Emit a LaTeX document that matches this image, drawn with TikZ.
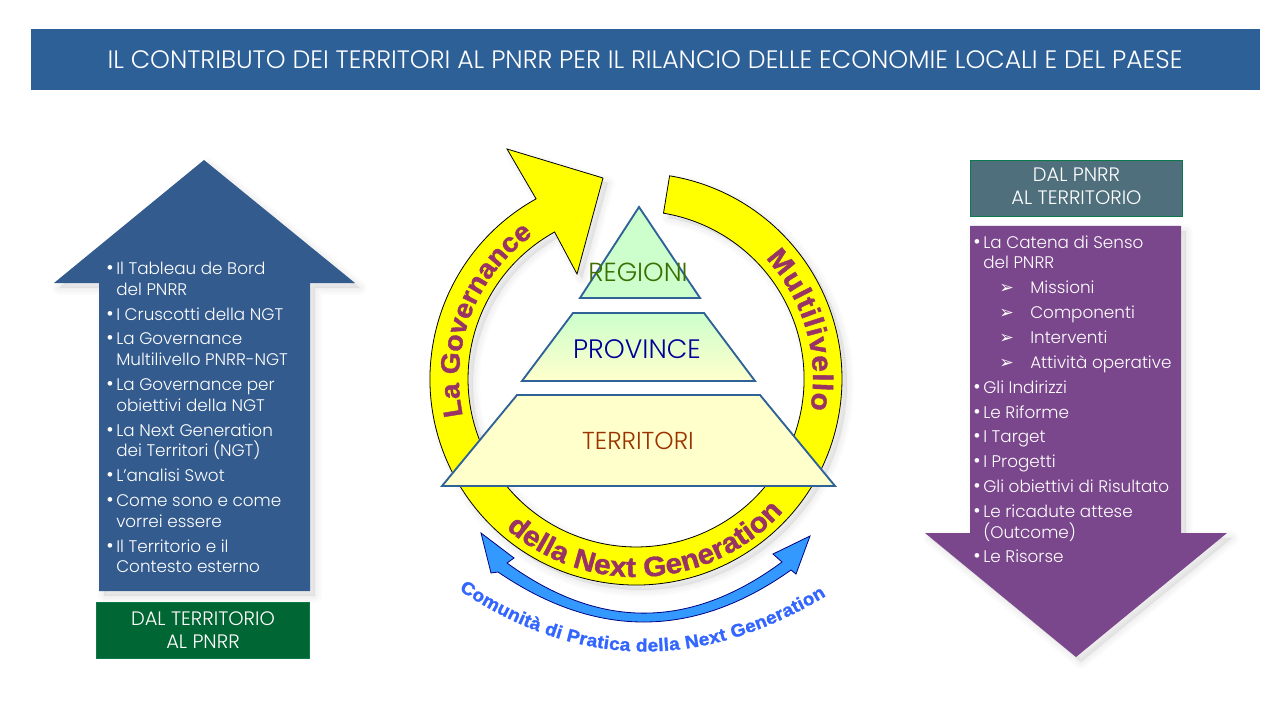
\documentclass[tikz,border=0pt]{standalone}
\usepackage{fontspec}
\usetikzlibrary{decorations.text}
\setmainfont{Poppins Light}
\newfontfamily\arbx{Liberation Sans Bold}[FakeBold=1.4,FakeStretch=1.06]
\newfontfamily\dv{DejaVu Sans}
\definecolor{headblue}{HTML}{2E6098}
\definecolor{upblue}{HTML}{335B8E}
\definecolor{dkgreen}{HTML}{006633}
\definecolor{slate}{HTML}{4F6F7C}
\definecolor{boxedge}{HTML}{0A7A4A}
\definecolor{purp}{HTML}{7A468C}
\definecolor{wine}{HTML}{993366}
\definecolor{pyredge}{HTML}{2F6296}
\definecolor{skyb}{HTML}{3399FF}
\definecolor{comm}{HTML}{3366FF}
\definecolor{mintg}{HTML}{CCFFCC}
\definecolor{paley}{HTML}{FFFFCC}
\definecolor{puryel}{HTML}{FFFF00}
\newcommand{\softsh}[2][5]{\foreach \w in {14,11,8,5,2}{\path[fill=black,draw=black,opacity=.012,line join=round,line width=\w*0.75pt,shift={(#1,#1)}] #2;}}
\newcommand{\wineText}{\arbx\fontsize{21}{21}\selectfont\color{wine}}
\newcommand{\wineSmall}{\arbx\fontsize{20}{21}\selectfont\color{wine}}
\newcommand{\commText}{\arbx\fontsize{13.5}{14}\selectfont\color{comm}}
\tikzset{
  lbl/.style={inner sep=0pt,anchor=base west,text=white,font=\fontsize{12.6}{13}\selectfont},
  pyr/.style={draw=pyredge,line width=1.4pt,line join=miter},
  ctr/.style={inner sep=0pt,align=center,text=white,font=\fontsize{14.6}{17.5}\selectfont},
}
\def\bandpath{(669.6,175.8) arc[start angle=80.6,end angle=-241,radius=154.5pt] -- (507,149) -- (603,178) -- (577,274) -- (554.6,232) arc[start angle=-241,end angle=80.6,radius=126pt] -- cycle}
\def\uppath{(204,160) -- (355,283) -- (310,283) -- (310,591) -- (99,591) -- (99,283) -- (54,283) -- cycle}
\def\downpath{(970,226) -- (1181,226) -- (1181,533) -- (1227,533) -- (1076,657) -- (925,533) -- (970,533) -- cycle}
\begin{document}
\begin{tikzpicture}[x=0.75pt,y=-0.75pt]
\useasboundingbox (0,0) rectangle (1280,720);
\fill[white] (0,0) rectangle (1280,720);
\coordinate (c) at (636,379);
% header
\fill[headblue] (31,29) rectangle (1260,90);
\node[inner sep=0pt,text=white,font=\fontsize{18.9}{22}\selectfont] (title) at (645,60) {IL CONTRIBUTO DEI TERRITORI AL PNRR PER IL RILANCIO DELLE ECONOMIE LOCALI E DEL PAESE};
% left arrow
\softsh{\uppath}
\fill[upblue] \uppath;
\foreach \yy/\tx [count=\i] in {274/Il Tableau de Bord,295/del PNRR,320/I Cruscotti della NGT,344/La Governance,365/Multilivello PNRR-NGT,390/La Governance per,411/obiettivi della NGT,436/La Next Generation,456/dei Territori (NGT),481/L’analisi Swot,506/Come sono e come,527/vorrei essere,552/Il Territorio e il,572/Contesto esterno}
  {\node[lbl] (ll\i) at (116,\yy) {\tx};}
\foreach \yy [count=\i] in {274,320,344,390,436,481,506,552}
  {\node[lbl,font=\fontsize{15}{15}\selectfont] (lb\i) at (106,\yy) {•};}
\node[draw=boxedge,line width=.6pt,fill=dkgreen,ctr,minimum width=160pt,minimum height=42pt] (lbox) at (203,630) {DAL TERRITORIO\\AL PNRR};
% right arrow
\node[draw=boxedge,line width=.6pt,fill=slate,minimum width=159.5pt,minimum height=42pt,inner sep=0pt] (rbox) at (1076.5,188) {};
\node[ctr] (rtext) at (1076.5,186.5) {DAL PNRR\\AL TERRITORIO};
\softsh{\downpath}
\fill[purp] \downpath;
\foreach \yy/\tx [count=\i] in {248/La Catena di Senso,268/del PNRR,393/Gli Indirizzi,418/Le Riforme,442/I Target,467/I Progetti,492/Gli obiettivi di Risultato,517/Le ricadute attese,538/(Outcome),562/Le Risorse}
  {\node[lbl] (rl\i) at (983,\yy) {\tx};}
\foreach \yy [count=\i] in {248,393,418,442,467,492,517,562}
  {\node[lbl,font=\fontsize{15}{15}\selectfont] (rb\i) at (973,\yy) {•};}
\foreach \yy/\tx [count=\i] in {293/Missioni,318/Componenti,343/Interventi,368/Attività operative}
  {\node[lbl] (rs\i) at (1030,\yy) {\tx};
   \node[lbl] (ra\i) at (999,\yy) {\dv\fontsize{13}{14}\selectfont ➢};}
% ring
\softsh{\bandpath}
\filldraw[fill=puryel,draw=black,line width=.6pt,line join=miter] \bandpath;
\path[decorate,decoration={text along path,text align={fit to path},text={|\wineSmall|La Governance}}]
  ([shift={(192:132.75pt)}]c) arc[start angle=192,end angle=125.5,radius=132.75pt];
\path[decorate,decoration={text along path,text align={fit to path},text={|\wineText|Multilivello}}]
  ([shift={(43:132.75pt)}]c) arc[start angle=43,end angle=-10,radius=132.75pt];
\path[decorate,decoration={text along path,text align={fit to path},text={|\wineText|della Next Generation}}]
  ([shift={(229:148.5pt)}]c) arc[start angle=229,end angle=318,radius=148.5pt];
% pyramid
\filldraw[pyr,fill=mintg] (639,207) -- (700,298) -- (580,298) -- cycle;
\draw[pyr,top color=mintg,bottom color=paley] (573,313) -- (704,313) -- (755,381) -- (522,381) -- cycle;
\filldraw[pyr,fill=paley] (517,395) -- (760,395) -- (835,486) -- (442,486) -- cycle;
\node[inner sep=0pt,text={rgb,255:red,60;green,110;blue,0},font=\fontsize{19.6}{22}\selectfont] (reg) at (638,272) {REGIONI};
\node[inner sep=0pt,text={rgb,255:red,0;green,0;blue,153},font=\fontsize{20}{22}\selectfont] (prov) at (637,349) {PROVINCE};
\node[inner sep=0pt,text={rgb,255:red,153;green,51;blue,0},font=\fontsize{18.4}{22}\selectfont] (terr) at (638,441) {TERRITORI};
% community arrow
\filldraw[fill=skyb,draw=blue!50!black,line width=.6pt,line join=miter]
  (507,563) .. controls (599,630) and (690,630) .. (782,562) -- (773,554) -- (810,536) -- (796,574) -- (791,570)
  .. controls (694,639) and (596,639) .. (498,572) -- (491,573) -- (481,533) -- (514,558) -- cycle;
\path[decorate,decoration={text along path,text align={fit to path},text={|\commText|Comunità di Pratica della Next Generation}}]
  (459,590) .. controls (580,671) and (702,671) .. (826,596);
\end{tikzpicture}
\end{document}
